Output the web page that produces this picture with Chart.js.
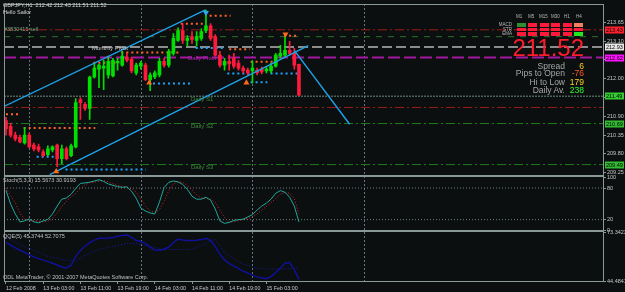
<!DOCTYPE html>
<html>
<head>
<meta charset="utf-8">
<script src="https://cdn.jsdelivr.net/npm/chart.js@4.4.1/dist/chart.umd.min.js"></script>
<style>
  html, body { margin: 0; padding: 0; background: #0b0f0f; }
  #wrap { position: relative; width: 625px; height: 292px; overflow: hidden; }
  #c { position: absolute; left: 0; top: 0; }
  .t { position: absolute; font-family: "Liberation Sans", Arial, sans-serif; white-space: nowrap; line-height: 1; }
  .r { text-align: right; }
  .cell { position: absolute; width: 9px; }
</style>
</head>
<body>
<div id="wrap">
  <canvas id="c" width="625" height="292"></canvas>

  <div class="t" style="left:3px;top:2.5px;font-size:5.5px;color:#d8d8d8">GBPJPY,H1&nbsp; 212.42 212.43 211.51 211.52</div>
  <div class="t" style="left:3px;top:9.5px;font-size:5.5px;color:#d8d8d8">Hello Sailor</div>
  <div class="t" style="left:4px;top:26.5px;font-size:5.5px;color:#7fa27f">#3830415 sell</div>
  <div class="t" style="left:92px;top:44.5px;font-size:6px;color:#c8c8c8">Monthly Pivot</div>
  <div class="t" style="left:188px;top:54.5px;font-size:6px;color:#b424b4">Daily Pivot</div>
  <div class="t" style="left:191px;top:96px;font-size:6px;color:#3f8a3f">Daily S1</div>
  <div class="t" style="left:191px;top:123.2px;font-size:6px;color:#3f8a3f">Daily S2</div>
  <div class="t" style="left:191px;top:164.2px;font-size:6px;color:#3f8a3f">Daily S3</div>

  <!-- signal matrix -->
  <div class="t" style="left:516px;top:14.5px;font-size:4.5px;color:#b8b8b8">M1</div>
  <div class="t" style="left:528px;top:14.5px;font-size:4.5px;color:#b8b8b8">M5</div>
  <div class="t" style="left:539px;top:14.5px;font-size:4.5px;color:#b8b8b8">M15</div>
  <div class="t" style="left:551px;top:14.5px;font-size:4.5px;color:#b8b8b8">M30</div>
  <div class="t" style="left:564px;top:14.5px;font-size:4.5px;color:#b8b8b8">H1</div>
  <div class="t" style="left:576px;top:14.5px;font-size:4.5px;color:#b8b8b8">H4</div>
  <div class="t r" style="right:113px;top:22.5px;font-size:4.5px;color:#b8b8b8">MACD</div>
  <div class="t r" style="right:113px;top:27.5px;font-size:4.5px;color:#b8b8b8">STR</div>
  <div class="t r" style="right:113px;top:32px;font-size:4.5px;color:#b8b8b8">EMA</div>
  <div id="matrix"></div>

  <div class="t r" style="right:41px;top:36px;font-size:24px;color:#ff1c2c">211.52</div>
  <div class="t r" style="right:60px;top:61.5px;font-size:8.5px;color:#a8a8a8">Spread</div>
  <div class="t r" style="right:60px;top:69.2px;font-size:8.5px;color:#a8a8a8">Pips to Open</div>
  <div class="t r" style="right:60px;top:77.5px;font-size:8.5px;color:#a8a8a8">Hi to Low</div>
  <div class="t r" style="right:60px;top:85.8px;font-size:8.5px;color:#a8a8a8">Daily Av.</div>
  <div class="t r" style="right:41px;top:61.5px;font-size:8.5px;color:#ffc820">6</div>
  <div class="t r" style="right:41px;top:69.2px;font-size:8.5px;color:#ff5a2a">-76</div>
  <div class="t r" style="right:41px;top:77.5px;font-size:8.5px;color:#ffd21e">179</div>
  <div class="t r" style="right:41px;top:85.8px;font-size:8.5px;color:#33ff33">238</div>

  <div class="t" style="left:3px;top:178px;font-size:5.5px;color:#c0c0c0">Stoch(5,3,3) 15.5673 30.9193</div>
  <div class="t" style="left:3px;top:234px;font-size:5.5px;color:#c0c0c0">QQE(5) 45.3744 52.7075</div>
  <div class="t" style="left:3px;top:275px;font-size:5.5px;color:#c0c0c0">ODL MetaTrader, © 2001-2007 MetaQuotes Software Corp.</div>
</div>

<script>
// GBPJPY H1, bar 0 = 12 Feb 2008 19:00
const openP = [210.78,210.61,210.35,210.29,210.12,210.35,210.06,210.01,209.86,209.78,
  209.92,210.06,209.66,209.95,209.75,210.01,211.39,211.25,211.13,212.05,
  212.28,212.31,212.11,212.08,212.46,212.40,212.63,212.57,212.17,212.37,
  212.40,211.97,212.05,212.11,212.51,212.40,212.74,213.12,213.41,213.12,
  213.23,213.12,213.18,213.41,213.55,213.23,212.69,212.40,212.51,212.60,
  212.46,212.31,212.25,212.23,212.25,212.28,212.23,212.23,212.37,212.66,
  212.69,212.83,212.74,212.42];
const highP = [210.87,210.70,210.44,210.35,210.58,210.41,210.12,210.09,209.92,210.04,
  210.04,210.09,210.06,210.01,210.09,211.42,211.45,211.30,212.08,212.46,
  212.43,212.54,212.66,212.60,212.60,212.80,212.74,212.63,212.46,212.51,
  212.46,212.17,212.23,212.60,212.60,212.86,213.32,213.49,213.61,213.26,
  213.38,213.38,213.46,214.01,213.61,213.29,212.80,212.60,212.69,212.74,
  212.54,212.37,212.31,212.51,212.31,212.34,212.34,212.46,212.74,212.98,
  213.32,213.09,212.89,212.43];
const lowP = [210.35,210.29,210.18,210.12,210.09,209.98,209.89,209.86,209.72,209.75,
  209.86,209.43,209.52,209.63,209.72,209.98,210.81,211.07,210.81,212.02,
  211.74,211.68,212.02,212.05,212.25,212.37,212.49,212.17,212.11,212.28,
  211.94,211.65,212.00,212.05,212.34,212.34,212.69,213.09,213.03,212.95,
  213.03,212.95,213.12,213.35,213.12,212.66,212.34,212.25,212.25,212.31,
  212.25,212.17,212.11,211.88,212.11,212.14,212.17,212.17,212.34,212.60,
  212.63,212.69,212.28,211.51];
const closeP = [210.53,210.35,210.24,210.15,210.35,210.01,209.95,209.92,209.75,209.95,
  210.01,209.66,209.95,209.66,210.04,211.30,211.30,211.13,212.05,212.31,
  212.40,212.37,212.51,212.54,212.51,212.66,212.54,212.23,212.40,212.46,
  211.97,212.11,212.17,212.51,212.40,212.80,213.18,213.41,213.12,213.18,
  213.15,213.23,213.38,213.55,213.18,212.69,212.40,212.51,212.43,212.37,
  212.31,212.23,212.17,212.31,212.17,212.20,212.28,212.37,212.69,212.74,
  212.83,212.74,212.40,211.52];

const stochMain = [75.5,49.4,30.7,15.7,17.6,21.3,15.7,13.9,17.6,20.4,
  30.7,45.7,58.8,61.2,68.2,79.4,88.8,89.7,91.0,93.4,
  95.7,92.5,87.8,85.0,82.6,81.3,82.2,73.8,60.7,41.9,
  36.3,32.6,30.7,53.2,81.3,90.6,93.4,91.6,86.9,77.5,
  64.4,58.8,58.8,62.5,56.9,40.1,17.6,12.9,14.8,18.5,
  20.0,20.8,25.1,29.4,38.2,45.7,51.3,58.8,70.0,75.1,
  71.9,62.5,45.7,15.6];
const stochSignal = [80,65,52,32,21,18,18,17,16,17,
  23,32,45,55,63,70,79,86,90,91,
  93,94,92,88,85,83,82,79,72,59,
  46,37,33,39,55,75,88,92,91,85,
  76,67,61,60,59,53,38,24,15,16,
  18,20,22,25,31,38,45,52,60,68,
  72,70,60,30.9];
const stochLevels = [80, 20];

const qqeMain = [67.57,65.86,64.27,62.86,61.56,60.15,58.79,57.85,56.97,56.08,
  55.08,54.02,52.90,52.31,53.90,59.21,62.74,65.39,67.45,68.92,
  69.98,69.98,70.16,70.51,71.22,71.75,71.99,70.51,68.63,68.04,
  66.86,64.68,63.03,62.86,63.45,64.80,67.45,69.51,68.92,68.63,
  68.63,68.81,69.22,69.98,68.63,65.10,60.38,57.14,55.08,53.32,
  51.84,50.37,49.31,47.84,46.95,46.25,45.89,47.13,49.49,52.14,
  55.08,55.67,51.25,45.37];
const qqeSlow = [70.40,69.22,67.45,66.27,65.10,63.92,62.74,61.56,60.38,59.21,
  58.62,58.03,57.44,56.85,56.85,56.26,58.03,59.79,60.97,62.15,
  63.33,63.92,64.51,65.10,65.68,66.27,66.86,66.86,66.86,66.27,
  65.68,65.10,64.51,63.92,63.33,63.33,63.33,63.33,63.33,63.33,
  63.50,64.51,65.68,66.86,68.63,69.22,65.68,61.56,59.79,58.03,
  55.67,54.49,53.90,52.73,52.14,51.84,51.72,51.72,51.72,51.72,
  51.72,51.84,52.14,52.71];

// horizontal levels: alert, order, monthly pivot, daily pivot, S1, alert, S2, S3
const levelPrices = [213.43, 213.23, 212.93, 212.62, 211.49, 211.16, 210.69, 209.49];
const boxPrices = [213.43, 212.93, 212.62, 211.49, 210.69, 209.49];

// trend channel (bar index, price)
const upperX = [-0.43, 42.9], upperY = [211.19, 214.01];
const lowerX = [9.4, 65.0],   lowerY = [209.20, 212.97];
const downX = [62.0, 73.9],   downY = [212.83, 210.67];

// fractal levels
const redFrom = [0, 3.8, 18.8, 24.8, 37.6, 43.8, 48.0, 52.6, 59.8];
const redTo   = [3.2, 19.2, 23.7, 37.4, 42.3, 48.3, 52.4, 58.8, 63.0];
const redLvl  = [210.96, 210.56, 212.47, 212.77, 213.61, 213.84, 212.86, 212.50, 213.26];
const blueFrom = [6.6, 12.8, 31.6, 40.8, 47.6, 52.6, 56.9];
const blueTo   = [10.3, 30.1, 40.2, 47.0, 52.4, 56.2, 63.0];
const blueLvl  = [209.72, 209.35, 211.86, 212.90, 212.15, 211.90, 212.15];

// arrows
const upArrowX = [10.8, 30.8, 51.7], upArrowY = [209.29, 211.88, 211.88];
const dnArrowX = [43, 60.1], dnArrowY = [213.93, 213.30];

// axes
const priceTicks = [209.25, 209.80, 210.35, 210.90, 211.45, 212.00, 212.55, 213.10, 213.65];
const stochTicks = [0, 20, 80, 100];
const qqeTicks = [44.4841, 73.3423];
const timeBars = [0, 8, 16, 24, 32, 40, 48, 56];
const timeLabels = ['12 Feb 2008', '13 Feb 03:00', '13 Feb 11:00', '13 Feb 19:00',
  '14 Feb 03:00', '14 Feb 11:00', '14 Feb 19:00', '15 Feb 03:00'];
const dayBars = [5, 29, 53, 77];

const FONT = '"Liberation Sans", Arial, sans-serif';
const UP = '#00e000', DOWN = '#ff1a3c';
const X0 = -0.43, X1 = 128.6;

// matrix cells
const matrixCols = [516.5, 528, 539.5, 551, 562.5, 574];
const matrixRows = [[23, 3.5], [28, 3], [32, 3.5]];
const matrixColors = [
  ['#2f8f2f', DOWN, DOWN, DOWN, DOWN, '#f08060'],
  [DOWN, DOWN, DOWN, DOWN, DOWN, DOWN],
  [DOWN, DOWN, DOWN, DOWN, DOWN, '#22e622']
];
const matrix = document.getElementById('matrix');
matrixRows.forEach(([top, h], r) => {
  matrixCols.forEach((left, k) => {
    const d = document.createElement('div');
    d.className = 'cell';
    d.style.cssText = `left:${left}px;top:${top}px;height:${h}px;background:${matrixColors[r][k]}`;
    matrix.appendChild(d);
  });
});

const idx = openP.map((_, i) => i);
const candleColors = idx.map(i => closeP[i] >= openP[i] ? UP : DOWN);

function segData(from, to, lvl) {
  const d = [];
  from.forEach((f, k) => { d.push({x: f, y: lvl[k]}, {x: to[k], y: lvl[k]}, {x: to[k], y: null}); });
  return d;
}
function hline(axis, y, color, dash, width, order) {
  return { type: 'line', yAxisID: axis, data: [{x: X0, y}, {x: X1, y}], borderColor: color,
    borderDash: dash, borderWidth: width, pointRadius: 0, order };
}
function tline(xs, ys) {
  return { type: 'line', yAxisID: 'y', data: xs.map((x, k) => ({x, y: ys[k]})),
    borderColor: '#1ea2ea', borderWidth: 1.4, pointRadius: 0, order: 2 };
}

const levelStyles = [
  ['#a01c1c', [9, 3, 2, 3], 1], ['#2d6e2d', [6, 6], 1], ['#8c8c8c', [10, 4], 2], ['#a3189f', [12, 4], 2],
  ['#6f8c7a', [2, 1], 1], ['#9b1c1c', [9, 3, 2, 3], 1], ['#1f7a1f', [9, 3, 2, 3], 1], ['#1f7a1f', [9, 3, 2, 3], 1]
];
const boxColors = ['#ff2030', '#e8e8e8', '#ff10ff', '#33cc33', '#33bb33', '#33bb33'];

const datasets = [];
levelPrices.forEach((p, k) => datasets.push(hline('y', p, ...levelStyles[k], 10)));
datasets.push({ type: 'line', yAxisID: 'y', data: segData(redFrom, redTo, redLvl), borderColor: '#ff6228',
  borderDash: [2, 3], borderWidth: 2, pointRadius: 0, order: 8 });
datasets.push({ type: 'line', yAxisID: 'y', data: segData(blueFrom, blueTo, blueLvl), borderColor: '#22a4ff',
  borderDash: [2, 3], borderWidth: 2, pointRadius: 0, order: 8 });
datasets.push({ type: 'bar', yAxisID: 'y', data: idx.map(i => ({x: i, y: [lowP[i], highP[i]]})),
  backgroundColor: candleColors, barThickness: 1, grouped: false, order: 5 });
datasets.push({ type: 'bar', yAxisID: 'y', data: idx.map(i => ({x: i, y: [openP[i], closeP[i]]})),
  backgroundColor: candleColors, barThickness: 3, minBarLength: 1, grouped: false, order: 4 });
datasets.push(tline(upperX, upperY), tline(lowerX, lowerY), tline(downX, downY));
datasets.push({ type: 'line', yAxisID: 'y', showLine: false, data: upArrowX.map((x, k) => ({x, y: upArrowY[k]})),
  pointStyle: 'triangle', pointRadius: 3.5, pointBorderWidth: 0, pointBackgroundColor: '#ff6a1a', order: 1 });
datasets.push({ type: 'line', yAxisID: 'y', showLine: false, data: dnArrowX.map((x, k) => ({x, y: dnArrowY[k]})),
  pointStyle: 'triangle', pointRotation: 180, pointRadius: 3.5, pointBorderWidth: 0,
  pointBackgroundColor: ['#2aa8f0', '#ff6a1a'], order: 1 });

stochLevels.forEach(v => datasets.push(hline('yS', v, '#707a84', [1, 2], 1, 10)));
datasets.push({ type: 'line', yAxisID: 'yS', data: idx.map(i => ({x: i, y: stochSignal[i]})),
  borderColor: '#e02424', borderDash: [1, 2], borderWidth: 1, pointRadius: 0, order: 3 });
datasets.push({ type: 'line', yAxisID: 'yS', data: idx.map(i => ({x: i, y: stochMain[i]})),
  borderColor: '#20a89c', borderWidth: 1, pointRadius: 0, order: 2 });
datasets.push({ type: 'line', yAxisID: 'yQ', data: idx.map(i => ({x: i, y: qqeSlow[i]})),
  borderColor: '#1a1aa8', borderDash: [1, 2], borderWidth: 1, pointRadius: 0, order: 3 });
datasets.push({ type: 'line', yAxisID: 'yQ', data: idx.map(i => ({x: i, y: qqeMain[i]})),
  borderColor: '#10109a', borderWidth: 1.5, pointRadius: 0, order: 2 });

function paneAxis(min, max, weight, ticks, fmt) {
  return {
    type: 'linear', position: 'right', stack: 'panes', stackWeight: weight, min, max, beginAtZero: false,
    grid: { display: true, drawOnChartArea: false, drawTicks: true, tickLength: 2, color: '#8a9696' },
    border: { display: false },
    ticks: { font: {family: FONT, size: 5.5}, color: '#c8c8c8', padding: 1, autoSkip: false, callback: fmt },
    afterBuildTicks: s => { s.ticks = ticks.map(v => ({value: v})); },
    afterFit: s => { s.width = 21; s.paddingTop = 0; s.paddingBottom = 0; }
  };
}

const frame = {
  id: 'frame',
  beforeDraw(chart) {
    const c = chart.ctx;
    c.save(); c.fillStyle = '#0b0f0f'; c.fillRect(0, 0, chart.width, chart.height); c.restore();
  },
  beforeDatasetsDraw(chart) {
    const {ctx, chartArea: a} = chart, x = chart.scales.x;
    ctx.save();
    ctx.strokeStyle = '#667482'; ctx.lineWidth = 1; ctx.setLineDash([2, 2]);
    dayBars.forEach(b => {
      const px = Math.round(x.getPixelForValue(b)) + 0.5;
      ctx.beginPath(); ctx.moveTo(px, a.top); ctx.lineTo(px, a.bottom); ctx.stroke();
    });
    ctx.restore();
  },
  afterDraw(chart) {
    const {ctx, chartArea: a, scales} = chart;
    ctx.save();
    ctx.strokeStyle = '#8a9898'; ctx.lineWidth = 1;
    [scales.y, scales.yS, scales.yQ].forEach(s => {
      ctx.strokeRect(a.left + 0.5, Math.round(s.top) + 0.5, a.right - a.left - 1, Math.round(s.bottom - s.top) - 1);
    });
    ctx.font = `5.5px ${FONT}`; ctx.textBaseline = 'middle';
    boxPrices.forEach((p, k) => {
      const y = Math.round(scales.y.getPixelForValue(p));
      ctx.fillStyle = boxColors[k]; ctx.fillRect(a.right + 1, y - 3.5, 19, 7);
      ctx.fillStyle = '#000'; ctx.fillText(p.toFixed(2), a.right + 2, y + 0.5);
    });
    ctx.restore();
  }
};

new Chart(document.getElementById('c'), {
  type: 'bar',
  data: { datasets },
  options: {
    responsive: false, animation: false, events: [],
    layout: { padding: 0 },
    plugins: { legend: { display: false }, tooltip: { enabled: false } },
    scales: {
      x: {
        type: 'linear', min: X0, max: X1, offset: false,
        grid: { display: true, drawOnChartArea: false, drawTicks: true, tickLength: 2, color: '#8a9696', offset: false },
        border: { display: false },
        ticks: { font: {family: FONT, size: 5.3}, color: '#c8c8c8', padding: 1, align: 'start',
          maxRotation: 0, autoSkip: false, callback: (v, i) => timeLabels[i] },
        afterBuildTicks: s => { s.ticks = timeBars.map(v => ({value: v})); },
        afterFit: s => { s.height = 10; s.paddingLeft = 0; s.paddingRight = 0; }
      },
      y: paneAxis(209.17, 214.185, 174, priceTicks, v => v.toFixed(2)),
      yS: paneAxis(-1.1, 103.7, 56, stochTicks, v => String(v)),
      yQ: paneAxis(43.89, 74.52, 52, qqeTicks, v => v.toFixed(4))
    }
  },
  plugins: [frame]
});
</script>
</body>
</html>
